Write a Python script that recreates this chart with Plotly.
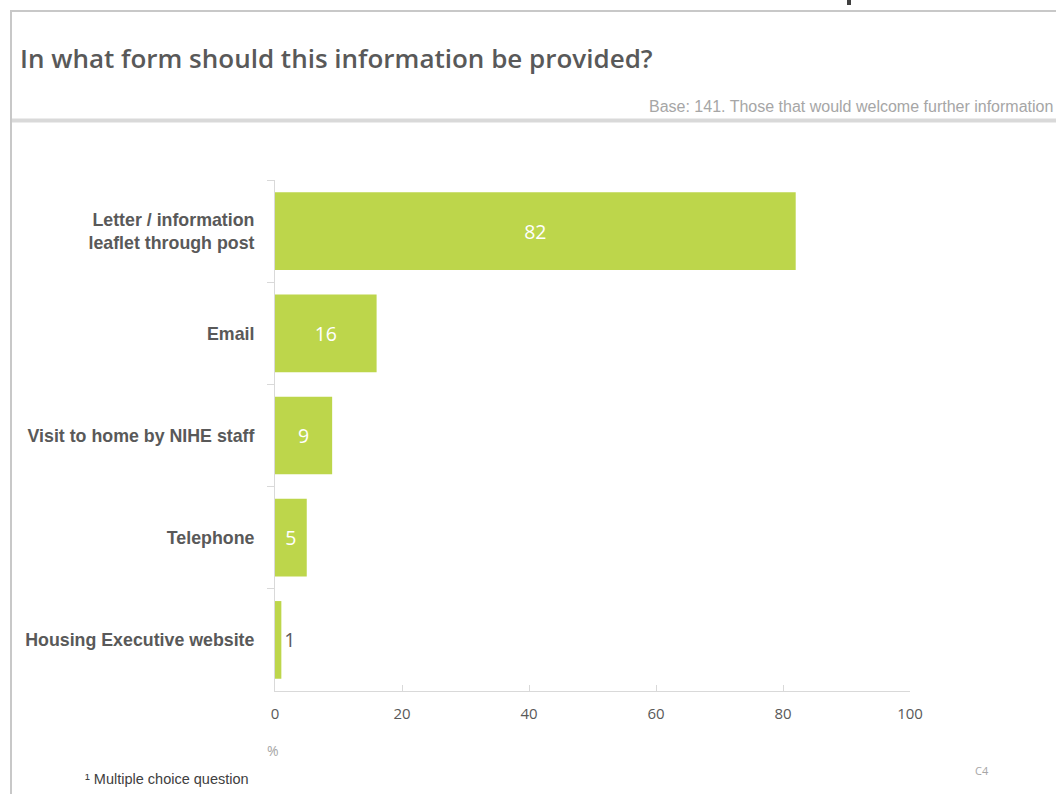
import plotly.graph_objects as go

# Survey responses: preferred way of receiving information (%)
categories = [
    "Letter / information<br>leaflet through post",
    "Email",
    "Visit to home by NIHE staff",
    "Telephone",
    "Housing Executive website",
]
percentages = [82, 16, 9, 5, 1]
x_tick_values = [0, 20, 40, 60, 80, 100]

BAR_GREEN = "#BDD64B"
TEXT_GREY = "#595959"
LIGHT_GREY = "#A6A6A6"
RULE_GREY = "#D9D9D9"

W, H = 1056, 794
L, R, T, B = 275, 146, 180, 103
PW, PH = W - L - R, H - T - B


def px_x(x):
    """Horizontal pixel position -> paper coordinate."""
    return (x - L) / PW


def px_y(y):
    """Vertical pixel position (from top) -> paper coordinate."""
    return (H - B - y) / PH


fig = go.Figure(
    go.Bar(
        x=percentages,
        y=categories,
        orientation="h",
        marker=dict(color=BAR_GREEN, line=dict(width=0)),
        width=0.76,
        text=[str(v) for v in percentages],
        textposition="auto",
        insidetextanchor="middle",
        insidetextfont=dict(family="Open Sans", size=19.5, color="white"),
        outsidetextfont=dict(family="Open Sans", size=19.5, color=TEXT_GREY),
        constraintext="none",
        cliponaxis=False,
        hoverinfo="skip",
    )
)

fig.update_layout(
    width=W,
    height=H,
    margin=dict(l=L, r=R, t=T, b=B),
    paper_bgcolor="white",
    plot_bgcolor="white",
    showlegend=False,
    font=dict(family="Liberation Sans", color=TEXT_GREY),
    xaxis=dict(
        range=[0, 100],
        tickvals=x_tick_values,
        ticks="inside",
        ticklen=6,
        tickcolor=RULE_GREY,
        showline=True,
        linecolor=RULE_GREY,
        linewidth=1,
        showgrid=False,
        zeroline=False,
        tickfont=dict(family="Open Sans", size=15, color=TEXT_GREY),
        ticklabelstandoff=9,
        fixedrange=True,
    ),
    yaxis=dict(
        autorange="reversed",
        tickson="boundaries",
        ticks="outside",
        ticklen=7,
        tickcolor=RULE_GREY,
        showline=True,
        linecolor=RULE_GREY,
        linewidth=1,
        showgrid=False,
        zeroline=False,
        tickfont=dict(family="Liberation Sans", size=17.8, color=TEXT_GREY, weight="bold"),
        ticklabelstandoff=16,
        fixedrange=True,
    ),
)

# Slide frame: top rule, left rule and the heavier divider under the heading
fig.update_layout(shapes=[
    dict(type="line", xref="paper", yref="paper",
         x0=px_x(12), x1=px_x(1060), y0=px_y(11), y1=px_y(11),
         line=dict(color="#C8C8C8", width=2)),
    dict(type="line", xref="paper", yref="paper",
         x0=px_x(11), x1=px_x(11), y0=px_y(10), y1=px_y(800),
         line=dict(color="#C8C8C8", width=2)),
    dict(type="line", xref="paper", yref="paper",
         x0=px_x(12), x1=px_x(1060), y0=px_y(120.5), y1=px_y(120.5),
         line=dict(color=RULE_GREY, width=4)),
    dict(type="rect", xref="paper", yref="paper",
         x0=px_x(847), x1=px_x(851), y0=px_y(0), y1=px_y(5),
         fillcolor="#404040", line=dict(width=0)),
])

annotations = [
    dict(text="In what form should this information be provided?",
         x=px_x(18), y=px_y(58), xanchor="left", yanchor="middle",
         font=dict(family="Open Sans", size=26, color=TEXT_GREY, weight=600)),
    dict(text="Base: 141. Those that would welcome further information",
         x=px_x(1055), y=px_y(106.5), xanchor="right", yanchor="middle",
         font=dict(family="Liberation Sans", size=16, color=LIGHT_GREY)),
    dict(text="%", x=px_x(273), y=px_y(750),
         xanchor="center", yanchor="middle",
         font=dict(family="Open Sans", size=14, color=LIGHT_GREY)),
    dict(text="¹ Multiple choice question", x=px_x(83), y=px_y(779),
         xanchor="left", yanchor="middle",
         font=dict(family="Liberation Sans", size=14.5, color="#404040")),
    dict(text="C4", x=px_x(982), y=px_y(770),
         xanchor="center", yanchor="middle",
         font=dict(family="Open Sans", size=11, color=LIGHT_GREY)),
]
for a in annotations:
    fig.add_annotation(xref="paper", yref="paper", showarrow=False, **a)

fig.write_html("out.html")
